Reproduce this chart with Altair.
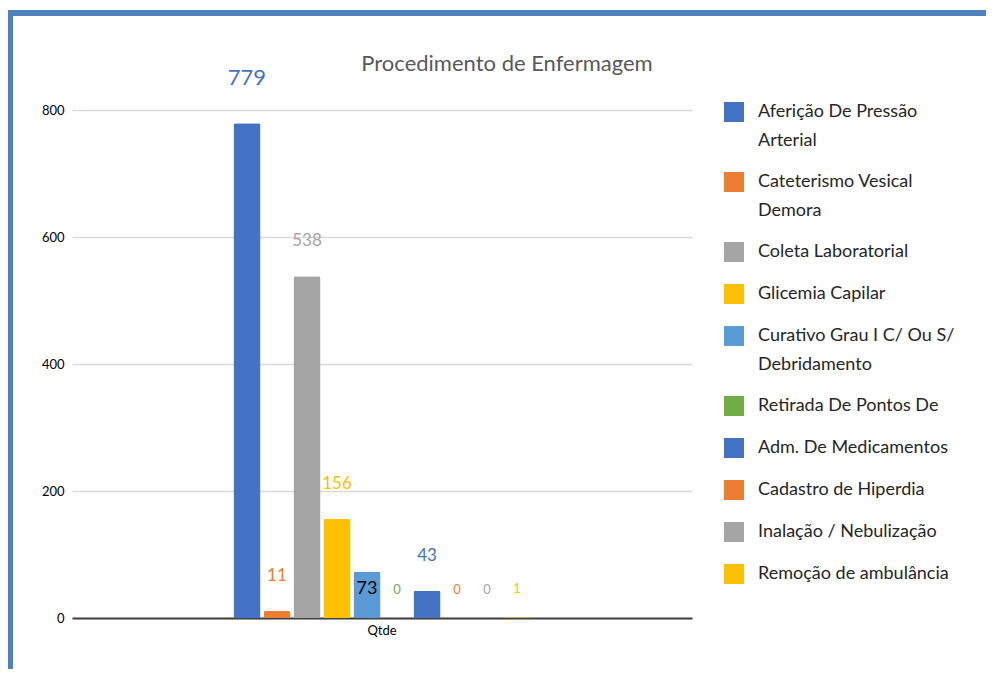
import altair as alt
import pandas as pd

title_text = "Procedimento de Enfermagem"
series = [
    "Aferição De Pressão Arterial",
    "Cateterismo Vesical Demora",
    "Coleta Laboratorial",
    "Glicemia Capilar",
    "Curativo Grau I C/ Ou S/ Debridamento",
    "Retirada De Pontos De",
    "Adm. De Medicamentos",
    "Cadastro de Hiperdia",
    "Inalação / Nebulização",
    "Remoção de ambulância",
]
values = [779, 11, 538, 156, 73, 0, 43, 0, 0, 1]
colors = ["#4472C4", "#ED7D31", "#A5A5A5", "#FFC000", "#5B9BD5",
          "#70AD47", "#4472C4", "#ED7D31", "#A5A5A5", "#FFC000"]
category = "Qtde"
y_ticks = [0, 200, 400, 600, 800]

df = pd.DataFrame({"grupo": category, "serie": series, "valor": values})

FONT = "Lato"

x_enc = alt.X("grupo:N", title=None,
              scale=alt.Scale(paddingInner=0, paddingOuter=0.533),
              axis=alt.Axis(labelAngle=0, labelFontSize=13, labelColor="#000000",
                            labelFont=FONT, ticks=False, labelPadding=6,
                            domainColor="#404040", domainWidth=2, grid=False))
xoff = alt.XOffset("serie:N", sort=series,
                   scale=alt.Scale(paddingInner=0.1, paddingOuter=0.05))
color_scale = alt.Scale(domain=series, range=colors)

base = alt.Chart(df)

bars = base.mark_bar(cornerRadiusTopLeft=2, cornerRadiusTopRight=2).encode(
    x=x_enc,
    xOffset=xoff,
    y=alt.Y("valor:Q", title=None,
            scale=alt.Scale(domain=[0, 800]),
            axis=alt.Axis(values=y_ticks, labelFontSize=13, labelColor="#000000",
                          labelFont=FONT, ticks=False, domain=False, labelPadding=8,
                          gridColor="#d9d9d9", gridWidth=1.5)),
    color=alt.Color("serie:N", scale=color_scale, sort=series,
                    legend=alt.Legend(
                        title=None, orient="none", legendX=652, legendY=-8,
                        symbolType="square", symbolSize=400, symbolStrokeWidth=0,
                        labelFont=FONT, labelFontSize=18, labelColor="#262626",
                        labelOffset=14, labelLimit=400, rowPadding=22,
                        labelExpr="split(replace(replace(replace(datum.label, 'Pressão Arterial', 'Pressão|Arterial'), 'Vesical Demora', 'Vesical|Demora'), 'S/ Debridamento', 'S/|Debridamento'), '|')",
                    )),
)

def lbl(filt, size, dy, black=False):
    ch = base.transform_filter(filt).mark_text(
        font=FONT, fontSize=size, dy=dy, baseline="middle", align="center"
    ).encode(
        x=alt.X("grupo:N"),
        xOffset=xoff,
        y=alt.Y("valor:Q"),
        text=alt.Text("valor:Q"),
    )
    if black:
        ch = ch.encode(color=alt.value("#000000"))
    else:
        ch = ch.encode(color=alt.Color("serie:N", scale=color_scale, legend=None))
    return ch

big = lbl("datum.valor >= 700", 22, -45)
mid = lbl("datum.valor >= 10 && datum.valor < 700 && datum.serie != 'Curativo Grau I C/ Ou S/ Debridamento'", 17, -35)
blk = lbl("datum.serie == 'Curativo Grau I C/ Ou S/ Debridamento'", 18, 17, black=True)
small = lbl("datum.valor < 10", 13, -28)

frame_data = alt.Data(values=[{"k": 1}])
left_border = alt.Chart(frame_data).mark_rule(color="#4F81BD", strokeWidth=6).encode(
    x=alt.value(-62), y=alt.value(-100), y2=alt.value(585))
top_border = alt.Chart(frame_data).mark_rule(color="#4F81BD", strokeWidth=6).encode(
    x=alt.value(-65), x2=alt.value(930), y=alt.value(-97))
title = alt.Chart(frame_data).mark_text(
    font=FONT, fontSize=22, color="#595959", align="center", baseline="middle"
).encode(x=alt.value(435), y=alt.value(-46), text=alt.value(title_text))

chart = alt.layer(bars, big, mid, blk, small, left_border, top_border, title).properties(
    width=620, height=508,
    padding={"left": 64, "top": 102, "right": 294, "bottom": 51},
    autosize=alt.AutoSizeParams(type="none"),
).configure(
    style={"guide-label": {"lineHeight": 29}},
    view=alt.ViewConfig(stroke=None),
)

chart.save("out.html", embed_options={"renderer": "svg", "actions": False})
